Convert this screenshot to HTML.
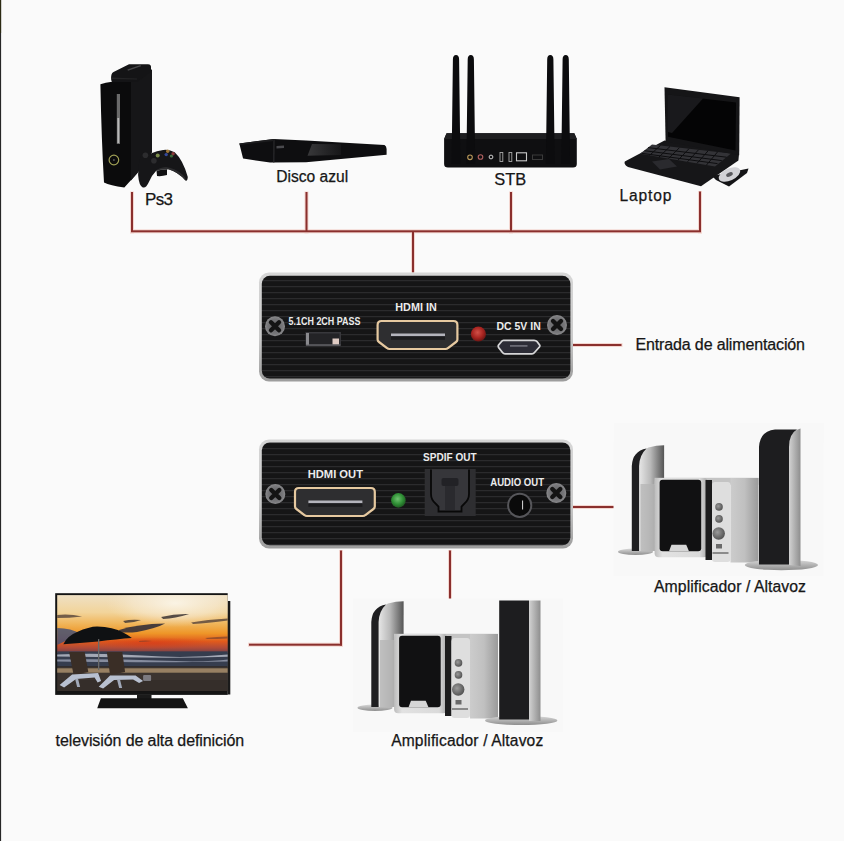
<!DOCTYPE html>
<html><head><meta charset="utf-8">
<style>
html,body{margin:0;padding:0;background:#fafafa;}
body{width:844px;height:841px;overflow:hidden;position:relative;}
svg{position:absolute;left:0;top:0;display:block;}
text{font-family:"Liberation Sans",sans-serif;}
</style></head>
<body>
<svg width="844" height="841" viewBox="0 0 844 841">
<defs>
  <pattern id="brush" x="0" y="0" width="8" height="6" patternUnits="userSpaceOnUse">
    <rect width="8" height="6" fill="#151516"/>
    <rect y="4" width="8" height="1.2" fill="#2b2b2d"/>
  </pattern>
  <linearGradient id="silver" x1="0" y1="0" x2="0" y2="1">
    <stop offset="0" stop-color="#d6d6d6"/>
    <stop offset="0.6" stop-color="#cacaca"/>
    <stop offset="1" stop-color="#9c9c9c"/>
  </linearGradient>
  <radialGradient id="ledR" cx="0.45" cy="0.4" r="0.6">
    <stop offset="0" stop-color="#d05048"/>
    <stop offset="0.6" stop-color="#a82420"/>
    <stop offset="1" stop-color="#6a1614"/>
  </radialGradient>
  <radialGradient id="ledG" cx="0.45" cy="0.4" r="0.6">
    <stop offset="0" stop-color="#70c070"/>
    <stop offset="0.6" stop-color="#2f8f35"/>
    <stop offset="1" stop-color="#1f5a22"/>
  </radialGradient>
  <radialGradient id="screw" cx="0.5" cy="0.5" r="0.5">
    <stop offset="0" stop-color="#5e5e60"/>
    <stop offset="0.75" stop-color="#77777a"/>
    <stop offset="1" stop-color="#8a8a8c"/>
  </radialGradient>
  <linearGradient id="sky" x1="0" y1="0" x2="0" y2="1">
    <stop offset="0" stop-color="#efe0c4"/>
    <stop offset="0.3" stop-color="#f2d49a"/>
    <stop offset="0.5" stop-color="#f0b458"/>
    <stop offset="0.66" stop-color="#ee9628"/>
    <stop offset="0.8" stop-color="#e05a1c"/>
    <stop offset="0.91" stop-color="#b04a38"/>
    <stop offset="1" stop-color="#704048"/>
  </linearGradient>
  <radialGradient id="glow" cx="0.5" cy="0.5" r="0.5">
    <stop offset="0" stop-color="#fbf6ea" stop-opacity="0.9"/>
    <stop offset="0.6" stop-color="#f8eedc" stop-opacity="0.5"/>
    <stop offset="1" stop-color="#f6e6c8" stop-opacity="0"/>
  </radialGradient>
  <radialGradient id="redglow" cx="0.5" cy="0.5" r="0.5">
    <stop offset="0" stop-color="#d83a18" stop-opacity="0.7"/>
    <stop offset="1" stop-color="#d83a18" stop-opacity="0"/>
  </radialGradient>
  <linearGradient id="bdGloss" x1="0" y1="0" x2="1" y2="0">
    <stop offset="0" stop-color="#38383a"/>
    <stop offset="1" stop-color="#161618"/>
  </linearGradient>
  <linearGradient id="satSil" x1="0" y1="0" x2="1" y2="0">
    <stop offset="0" stop-color="#e6e6e6"/>
    <stop offset="0.45" stop-color="#bababa"/>
    <stop offset="1" stop-color="#555555"/>
  </linearGradient>
  <linearGradient id="towSil" x1="0" y1="0" x2="1" y2="0">
    <stop offset="0" stop-color="#d2d2d2"/>
    <stop offset="1" stop-color="#8e8e8e"/>
  </linearGradient>
  <linearGradient id="subFr" x1="0" y1="0" x2="1" y2="0">
    <stop offset="0" stop-color="#bcbcbc"/>
    <stop offset="0.15" stop-color="#e2e2e2"/>
    <stop offset="0.85" stop-color="#dadada"/>
    <stop offset="1" stop-color="#a8a8a8"/>
  </linearGradient>
  <linearGradient id="subSide" x1="0" y1="0" x2="1" y2="0">
    <stop offset="0" stop-color="#cccccc"/>
    <stop offset="0.5" stop-color="#c0c0c0"/>
    <stop offset="1" stop-color="#9a9a9a"/>
  </linearGradient>
  <radialGradient id="knob" cx="0.4" cy="0.4" r="0.6">
    <stop offset="0" stop-color="#9a9a9a"/>
    <stop offset="1" stop-color="#555"/>
  </radialGradient>
  <linearGradient id="baseG" x1="0" y1="0" x2="0" y2="1">
    <stop offset="0" stop-color="#d8d8d8"/>
    <stop offset="1" stop-color="#8e8e8e"/>
  </linearGradient>

  
</defs>

<!-- left edge -->
<rect x="0" y="0" width="1.1" height="841" fill="#262626"/>
<rect x="0" y="0" width="1.1" height="33" fill="#2c2a12"/>

<!-- ===== red lines ===== -->
<g fill="#f3d6d0">
  <rect x="130" y="191.5" width="4" height="42"/>
  <rect x="304.5" y="191.5" width="4" height="42"/>
  <rect x="509" y="191.5" width="4" height="42"/>
  <rect x="698" y="191" width="4" height="42.5"/>
  <rect x="130" y="229.3" width="572" height="4"/>
  <rect x="411" y="230" width="4" height="42.5"/>
  <rect x="573" y="343" width="49.5" height="4"/>
  <rect x="573" y="505" width="44" height="4"/>
  <rect x="339" y="550" width="4" height="96.5"/>
  <rect x="248" y="642.7" width="95" height="4"/>
  <rect x="448" y="550" width="4" height="74"/>
</g>
<g fill="#8a2f2d">
  <rect x="131" y="192" width="2" height="40"/>
  <rect x="305.5" y="192" width="2" height="40"/>
  <rect x="510" y="192" width="2" height="40"/>
  <rect x="699" y="191.5" width="2" height="40.5"/>
  <rect x="131" y="230.3" width="570" height="2"/>
  <rect x="412" y="231" width="2" height="41.5"/>
  <rect x="573" y="344" width="48.5" height="2"/>
  <rect x="573" y="506" width="43" height="2"/>
  <rect x="340" y="550.5" width="2" height="95"/>
  <rect x="249" y="643.7" width="93" height="2"/>
  <rect x="449" y="550.5" width="2" height="73"/>
</g>

<!-- ===== texts ===== -->
<g fill="#161616" stroke="#161616" stroke-width="0.25">
  <text x="145" y="204.8" font-size="17" textLength="28" lengthAdjust="spacing">Ps3</text>
  <text x="276.3" y="181.9" font-size="15.6" textLength="71.8" lengthAdjust="spacing">Disco azul</text>
  <text x="494.3" y="184.9" font-size="16.4" textLength="32" lengthAdjust="spacing">STB</text>
  <text x="619.5" y="200.5" font-size="15.6" textLength="52" lengthAdjust="spacing">Laptop</text>
  <text x="635.5" y="349.8" font-size="16" textLength="169.5" lengthAdjust="spacing">Entrada de alimentación</text>
  <text x="654" y="592" font-size="15.8" textLength="152" lengthAdjust="spacing">Amplificador / Altavoz</text>
  <text x="391.2" y="746.3" font-size="15.6" textLength="152" lengthAdjust="spacing">Amplificador / Altavoz</text>
  <text x="55.6" y="746.1" font-size="16" textLength="188.5" lengthAdjust="spacing">televisión de alta definición</text>
</g>

<!-- ===== top device (HDMI IN) ===== -->
<g>
  <rect x="259" y="272.5" width="314" height="109" rx="10" fill="url(#silver)"/>
  <rect x="261.8" y="275.8" width="308.6" height="102.8" rx="8" fill="url(#brush)"/>
  <g transform="translate(275,326.3)">
    <circle r="10" fill="url(#screw)"/>
    <path d="M-4,-4 L4,4 M4,-4 L-4,4" stroke="#141414" stroke-width="4.4" stroke-linecap="round"/>
  </g>
  <g transform="translate(557,325)">
    <circle r="10" fill="url(#screw)"/>
    <path d="M-4,-4 L4,4 M4,-4 L-4,4" stroke="#141414" stroke-width="4.4" stroke-linecap="round"/>
  </g>
  <g fill="#ececec" font-weight="bold">
    <text x="288.6" y="324.8" font-size="10.2" textLength="71.8" lengthAdjust="spacingAndGlyphs">5.1CH 2CH PASS</text>
    <text x="395.3" y="311.4" font-size="11.8" textLength="41.4" lengthAdjust="spacingAndGlyphs">HDMI IN</text>
    <text x="496.5" y="330.4" font-size="11.8" textLength="44.2" lengthAdjust="spacingAndGlyphs">DC 5V IN</text>
  </g>
  <!-- switch -->
  <rect x="305.5" y="332" width="35.5" height="13.5" fill="#38383c"/>
  <rect x="307" y="333.5" width="32.5" height="10.5" fill="#232326"/>
  <rect x="306" y="333" width="3" height="12" fill="#8a8a8e"/>
  <rect x="332.5" y="338.5" width="6.5" height="6" fill="#e0ccc4"/>
  <rect x="306" y="344.5" width="34.5" height="1.2" fill="#6a6a6e"/>
  <!-- HDMI IN port -->
  <path d="M381.5,321 Q377.6,321 377.6,325 L377.6,339.5 Q377.6,341 379,342 L387,348 Q388,349 389.5,349 L445.5,349 Q447,349 448,348 L456,342 Q457.4,341 457.4,339.5 L457.4,325 Q457.4,321 453.5,321 Z" fill="#2e2e30" stroke="#e6c9a0" stroke-width="2.2"/>
  <rect x="391" y="333.5" width="54" height="2.8" fill="#b4b4bc"/>
  <rect x="391" y="336.3" width="54" height="3.5" fill="#1c1c1e"/>
  <!-- red LED -->
  <circle cx="478.4" cy="334" r="7.6" fill="url(#ledR)"/>
  <!-- micro usb -->
  <path d="M503.5,340.3 L534.1,340.3 Q536,340.3 537,341.5 L539.6,345 Q540.2,346 539.4,347 L534.5,352.5 Q533.5,353.8 532,353.8 L505,353.8 Q503.5,353.8 502.5,352.5 L498.6,347.5 Q497.9,346 498.6,345 L501.5,341.5 Q502.3,340.3 503.5,340.3 Z" fill="#2c2c36" stroke="#d6d6d8" stroke-width="1.8"/>
  <rect x="510" y="345" width="17.5" height="1.8" fill="#6a6a74"/>
</g>

<!-- ===== bottom device (HDMI OUT) ===== -->
<g>
  <rect x="259" y="439.5" width="314" height="109" rx="10" fill="url(#silver)"/>
  <rect x="261.8" y="442.5" width="308.6" height="102.8" rx="8" fill="url(#brush)"/>
  <g transform="translate(275.3,494)">
    <circle r="10" fill="url(#screw)"/>
    <path d="M-4,-4 L4,4 M4,-4 L-4,4" stroke="#141414" stroke-width="4.4" stroke-linecap="round"/>
  </g>
  <g transform="translate(556.3,493)">
    <circle r="10" fill="url(#screw)"/>
    <path d="M-4,-4 L4,4 M4,-4 L-4,4" stroke="#141414" stroke-width="4.4" stroke-linecap="round"/>
  </g>
  <g fill="#ececec" font-weight="bold">
    <text x="307.7" y="477.9" font-size="11.8" textLength="55.3" lengthAdjust="spacingAndGlyphs">HDMI OUT</text>
    <text x="423.1" y="460.6" font-size="11.8" textLength="53.5" lengthAdjust="spacingAndGlyphs">SPDIF OUT</text>
    <text x="490.3" y="485.8" font-size="11.8" textLength="53.7" lengthAdjust="spacingAndGlyphs">AUDIO OUT</text>
  </g>
  <!-- HDMI OUT port -->
  <g transform="translate(-82.6,167)"><path d="M381.5,321 Q377.6,321 377.6,325 L377.6,339.5 Q377.6,341 379,342 L387,348 Q388,349 389.5,349 L445.5,349 Q447,349 448,348 L456,342 Q457.4,341 457.4,339.5 L457.4,325 Q457.4,321 453.5,321 Z" fill="#2e2e30" stroke="#e6c9a0" stroke-width="2.2"/>
  <rect x="391" y="333.5" width="54" height="2.8" fill="#b4b4bc"/>
  <rect x="391" y="336.3" width="54" height="3.5" fill="#1c1c1e"/></g>
  <circle cx="398.4" cy="500.4" r="7.3" fill="url(#ledG)"/>
  <!-- spdif -->
  <rect x="424.7" y="469" width="51" height="47" fill="#2e2e31"/>
  <path d="M431,469.5 L431,494 Q431,500 436,504 L438.5,506.5 L438.5,511.5 L461.5,511.5 L461.5,506.5 L464,504 Q469,500 469,494 L469,469.5" fill="#36363a" stroke="#080808" stroke-width="1.8"/>
  <rect x="441.5" y="478" width="17" height="8" rx="2" fill="#222226"/>
  <rect x="445" y="486" width="10" height="24" fill="#2a2a2e"/>
  <!-- audio jack -->
  <circle cx="519.7" cy="505.3" r="11.6" fill="#0a0a0a" stroke="#56565a" stroke-width="2"/>
  <rect x="522" y="500.5" width="1.1" height="9" fill="#c8c8c8"/>
</g>

<!-- ===== Xbox (Ps3) ===== -->
<g>
  <path d="M100.4,84.2 Q112,80.5 131,81 L152,69.5 L152,152 L137,173.5 L124.3,187.4 Q110,185.5 104,182.5 Q101.5,140 100.4,84.2 Z" fill="#0b0b0c"/>
  <path d="M131,81 L152,69.5 L152,152 L137,173.5 L131,180.5 Z" fill="#161618"/>
  <path d="M111.2,80 Q110.5,73.5 113.5,72 L129,64.2 L148,64.2 Q151.5,64.5 151,68 L151,72 L137,82 L112,82 Z" fill="#141416"/>
  <path d="M127.4,69.5 L140.5,65 L141,66.3 L128,70.8 Z" fill="#48484a"/>
  <path d="M111.5,77.5 L137,78.5 L137,79.5 L112,79 Z" fill="#242426"/>
  <rect x="116.8" y="94" width="3.2" height="50" fill="#6a6a6a"/>
  <rect x="117.4" y="118" width="1.8" height="25" fill="#b8b8b8"/>
  <circle cx="113.9" cy="160" r="4.8" fill="none" stroke="#a0a055" stroke-width="1.2"/>
  <circle cx="113.9" cy="160" r="1" fill="#555"/>
  <!-- controller -->
  <path d="M141.6,153.9 Q146,153 150.8,153.5 Q157,150.5 163.1,150 Q168.5,148.8 174.7,152.3 Q183,160 187.8,177 Q187.5,181.5 185.5,180.5 Q178,172 168.5,169.3 Q160,169 156.2,170.8 Q152,175 148.9,182 Q146,188.5 142.8,187.4 Q139,186 138.1,175 Q138.5,160 141.6,153.9 Z" fill="#161618"/>
  <path d="M156,170.5 Q162,168.8 168.5,169.3 Q178,172 185.5,180.5 Q186,178 183,175 Q175,168 166,167 Q159,167.5 156,170.5 Z" fill="#2c2c2e"/>
  <path d="M156.5,170.5 L167,169.3 L167,175 Q162,176.5 157,176 Z" fill="#101012"/>
  <circle cx="167.7" cy="151.2" r="1.7" fill="#a07838"/>
  <circle cx="173.1" cy="153.8" r="1.7" fill="#8a3838"/>
  <circle cx="166.2" cy="154.6" r="1.7" fill="#34489a"/>
  <circle cx="171.4" cy="156" r="1.6" fill="#3a6a3a"/>
  <circle cx="157.7" cy="155.4" r="2" fill="#7a8a4a"/>
  <circle cx="145.4" cy="155.2" r="2.8" fill="#2c2c2e"/>
  <circle cx="153.9" cy="160.8" r="2.8" fill="#2c2c2e"/>
</g>

<!-- ===== Blu-ray ===== -->
<g>
  <path d="M239.3,143.4 L273.9,139 L306,140.6 L384.5,145.1 Q386.5,146 386.6,149 L386.6,154.7 L306,162.2 L270.1,162.6 L243.1,158.6 Z" fill="#0e0e10"/>
  <path d="M312,144 L341,144.3 L341,155 L307.5,155.7 Z" fill="url(#bdGloss)"/>
  <path d="M273.4,139.2 L274.6,139.2 L274.4,162.4 L273.2,162.4 Z" fill="#2a2a2c"/>
  <path d="M239.3,143.4 L273.9,139 L274,141 L240,145 Z" fill="#1c1c1e"/>
  <path d="M276.5,146 L284,145.5 L284,148 L276.5,148.5 Z" fill="#4a4a4e"/>
</g>

<!-- ===== STB router ===== -->
<g>
  <path d="M446.6,133.3 L574.3,133.3 L576.8,139.1 L576.8,164 Q576.8,167.5 573,167.5 L448,167.5 Q444.1,167.5 444.1,164 L444.1,139.1 Z" fill="#0f0f11"/>
  <path d="M446.6,133.3 L574.3,133.3 L576.8,139.1 L444.1,139.1 Z" fill="#1e1e20"/>
  <g fill="#0c0c0e">
    <path d="M452.9,59.5 Q452.9,55 456.0,55 Q459.1,55 459.1,59.5 L460.4,164 L451.6,164 Z"/>
    <path d="M467.7,59.5 Q467.7,55 470.8,55 Q473.9,55 473.9,59.5 L475.2,164 L466.4,164 Z"/>
    <path d="M547.2,59.5 Q547.2,55 550.3,55 Q553.4,55 553.4,59.5 L554.7,164 L545.9,164 Z"/>
    <path d="M562.6,59.5 Q562.6,55 565.7,55 Q568.8,55 568.8,59.5 L570.1,164 L561.3,164 Z"/>
  </g>
  <circle cx="470" cy="157.3" r="2.3" fill="none" stroke="#b8985a" stroke-width="1.1"/>
  <circle cx="480.5" cy="157" r="2.3" fill="none" stroke="#b06060" stroke-width="1.1"/>
  <circle cx="491" cy="157" r="1.9" fill="none" stroke="#d0d0d0" stroke-width="1"/>
  <rect x="500" y="152.5" width="2.8" height="9" fill="none" stroke="#a8a8a8" stroke-width="0.9"/>
  <rect x="509" y="152.5" width="2.8" height="9" fill="none" stroke="#a8a8a8" stroke-width="0.9"/>
  <rect x="516.5" y="152.8" width="10" height="8" fill="none" stroke="#c8c8c8" stroke-width="1.1"/>
  <rect x="532.5" y="155" width="10" height="4.5" fill="none" stroke="#3a3a3a" stroke-width="1"/>
</g>

<!-- ===== Laptop ===== -->
<g>
  <path d="M624.8,161.6 L664.5,140.5 L739,154 L738.4,160.5 L701,186.2 L628,167 Q623.5,164.5 624.8,161.6 Z" fill="#161618"/>
  <path d="M652,144.5 L731,153.5 L715,166.5 L640,153.8 Z" fill="#333337"/>
  <g stroke="#0d0d0f" stroke-width="1">
    <path d="M648,147.6 L726.5,157.2 M644.5,150.7 L721.8,160.6 M641.5,153.3 L717.5,163.6"/>
    <path d="M660.5,145.4 L649.5,155.4 M670,146.5 L659,157 M679.5,147.6 L668.5,158.6 M689,148.7 L678,160.2 M698.5,149.8 L687.5,161.8 M708,150.9 L697,163.4 M717.5,152 L706.5,165"/>
  </g>
  <path d="M652,161.5 L669,159 L677,166.5 L660,169.5 Z" fill="#2a2a2e"/>
  <path d="M664.5,87.2 L739.6,97.3 L739.2,155.2 L665.6,141.6 Z" fill="#151517"/>
  <path d="M668,94.4 L736,102.4 L735.5,150.4 L668,136.8 Z" fill="#040405"/>
  <path d="M668,94.4 L703,98.5 L672,133 L668,132 Z" fill="#3a3a3e" opacity="0.4"/>
  <path d="M712,176 L748.5,168.5 L747,173 L729,186.6 L716,180 Z" fill="#141416"/>
  <ellipse cx="729.5" cy="174.5" rx="11.5" ry="6" fill="#d2d2d6" transform="rotate(-24 729.5 174.5)"/>
  <ellipse cx="729.5" cy="174.5" rx="3.5" ry="2" fill="#5a5a5e" transform="rotate(-24 729.5 174.5)"/>
</g>

<!-- ===== TV ===== -->
<g>
  <rect x="55.2" y="593.2" width="172.5" height="101.7" fill="#141414"/>
  <rect x="227.5" y="601" width="2.8" height="93.5" fill="#1a1a1a"/>
  <svg x="57.1" y="595.1" width="170.7" height="96.1" viewBox="0 0 170.7 96.1" preserveAspectRatio="none">
    <rect width="170.7" height="58" fill="url(#sky)"/>
    <ellipse cx="118" cy="8" rx="70" ry="24" fill="url(#glow)"/>
    <ellipse cx="95" cy="48" rx="60" ry="6" fill="url(#redglow)"/>
    <path d="M0,20 Q12,18.5 25,21.5 Q12,23 0,23 Z" fill="#4a3a34" opacity="0.75"/>
    <path d="M0,33 Q14,33 24,39 Q12,44 0,50 Z" fill="#465276" opacity="0.85"/>
    <path d="M62,35 Q80,29 108,28.5 Q100,33 80,37 Q70,38 62,37 Z" fill="#343038" opacity="0.9"/>
    <path d="M66,26 Q74,24 84,25 Q76,28 68,28 Z" fill="#3c3434" opacity="0.8"/>
    <path d="M104,22 Q118,18.5 132,19 Q118,23.5 106,24 Z" fill="#3a3232" opacity="0.85"/>
    <path d="M134,27.5 Q150,24.5 170.7,23.5 L170.7,25.5 Q150,28 136,29 Z" fill="#4a3a36" opacity="0.75"/>
    <path d="M148,43 Q160,41.5 170.7,41.5 L170.7,43.5 Q160,44 150,44 Z" fill="#6a3a30" opacity="0.6"/>
    <path d="M82,46 Q88,45 95,46 Q88,47 82,47 Z" fill="#6a3a30" opacity="0.5"/>
    <rect y="56.3" width="170.7" height="15" fill="#363d4e"/>
    <path d="M0,59.5 Q40,57.5 85,60.5 T170.7,59.5 L170.7,61.7 Q130,63 85,62.5 T0,61.5 Z" fill="#c8ccd8" opacity="0.75"/>
    <path d="M0,64.5 Q50,63.5 100,65.5 T170.7,64.5 L170.7,66.5 Q120,67.5 60,67 T0,66.5 Z" fill="#a8aec0" opacity="0.7"/>
    <rect y="71.3" width="170.7" height="24.8" fill="#3c3430"/>
    <rect y="73.2" width="170.7" height="4.4" fill="#a88e6c" opacity="0.85"/>
    <rect y="85" width="170.7" height="11" fill="#2e2824" opacity="0.5"/>
    <!-- umbrella -->
    <path d="M6.2,49.2 Q10,41 20,37 Q32,31.5 40,31.5 Q56,32 66,37.5 Q72,40.5 74.8,43 Q60,44 41,46.5 Q22,48 6.2,49.2 Z" fill="#0f1113"/>
    <rect x="40.9" y="44" width="1.3" height="31" fill="#6a6a6a"/>
    <!-- chairs -->
    <path d="M12,57 L27.6,57 L31.2,77 L16.5,80 Z" fill="#3a2e26"/>
    <path d="M2.5,90 L15,79.5 L41,78 L44,86 L40.5,87.5 L37.5,82.5 L19,84 L7,92.5 Z" fill="#b8c0d0"/>
    <path d="M18,84 L20,92 L23,92 L21,84 Z" fill="#a0a8b8"/>
    <path d="M49.7,57 L65.2,57 L68,77 L53,80 Z" fill="#3a2e26"/>
    <path d="M41.6,91.7 L53,80.5 L78.5,80.5 L86,86 L82,88 L76,84.5 L57,85 L46,93.5 Z" fill="#b8c0d0"/>
    <path d="M60,85 L62,93 L65,93 L63,85 Z" fill="#a0a8b8"/>
    <rect x="86" y="80" width="8" height="6" rx="1" fill="#a8acb8" opacity="0.6"/>
  </svg>
  <rect x="137" y="694.5" width="14.5" height="4.5" fill="#1a1a1a"/>
  <path d="M100.9,698.3 L182.8,698.3 L187.9,708.2 L97.2,708.2 Z" fill="#131313"/>
</g>

<!-- ===== speakers bottom ===== -->
<g>
    <rect x="353" y="598.5" width="210" height="133.5" fill="#f8f8f8"/>
    <!-- left satellite -->
    <ellipse cx="375" cy="707.8" rx="17.5" ry="3.2" fill="url(#baseG)"/>
    <path d="M378.6,707 L378.6,615 Q380,606 388,603.5 Q396,601.3 403.6,601.2 L403.6,707 Z" fill="url(#satSil)"/>
    <path d="M380,640 L403.6,640 L403.6,707 L380,707 Z" fill="#b4b4b4" opacity="0.75"/>
    <path d="M371.3,707 L371.3,622 Q372,607 386,604.5 Q379,611 378.6,622 L378.6,707 Z" fill="#1f1f21"/>
    <!-- subwoofer -->
    <rect x="394" y="633.8" width="104" height="7" fill="#c4c4c4"/>
    <rect x="470" y="634" width="28" height="84.5" fill="url(#subSide)"/>
    <rect x="394.1" y="634.1" width="53" height="79.2" rx="4" fill="url(#subFr)"/>
    <rect x="399.1" y="635.8" width="41.6" height="71.5" rx="3" fill="#111112"/>
    <path d="M408.5,707.3 L411,700.7 L425.7,700.7 L428.5,707.3 Z" fill="#d6d6d6"/>
    <rect x="445" y="636" width="6.5" height="80" fill="#1c1c1d"/>
    <rect x="451.5" y="638" width="18.5" height="80" rx="3" fill="#dedede"/>
    <circle cx="458.5" cy="662.9" r="3.8" fill="url(#knob)"/>
    <circle cx="458.5" cy="674.9" r="3.8" fill="url(#knob)"/>
    <circle cx="458.2" cy="689.5" r="6.2" fill="url(#knob)"/>
    <rect x="455.5" y="700" width="6" height="4.5" fill="#6a6a6a"/>
    <rect x="452" y="708" width="16" height="2" fill="#8a8a8a"/>
  </g>
<ellipse cx="521.2" cy="720.5" rx="36.2" ry="4.5" fill="url(#baseG)"/>
<rect x="529" y="600.5" width="11.5" height="120.5" fill="url(#towSil)"/>
<rect x="499.2" y="600.5" width="29.8" height="119" fill="#1d1d1f"/>

<!-- ===== speakers right ===== -->
<rect x="614" y="423" width="210" height="20" fill="#f8f8f8"/>
<g transform="translate(260.5,-156)">
    <rect x="353" y="598.5" width="210" height="133.5" fill="#f8f8f8"/>
    <!-- left satellite -->
    <ellipse cx="375" cy="707.8" rx="17.5" ry="3.2" fill="url(#baseG)"/>
    <path d="M378.6,707 L378.6,615 Q380,606 388,603.5 Q396,601.3 403.6,601.2 L403.6,707 Z" fill="url(#satSil)"/>
    <path d="M380,640 L403.6,640 L403.6,707 L380,707 Z" fill="#b4b4b4" opacity="0.75"/>
    <path d="M371.3,707 L371.3,622 Q372,607 386,604.5 Q379,611 378.6,622 L378.6,707 Z" fill="#1f1f21"/>
    <!-- subwoofer -->
    <rect x="394" y="633.8" width="104" height="7" fill="#c4c4c4"/>
    <rect x="470" y="634" width="28" height="84.5" fill="url(#subSide)"/>
    <rect x="394.1" y="634.1" width="53" height="79.2" rx="4" fill="url(#subFr)"/>
    <rect x="399.1" y="635.8" width="41.6" height="71.5" rx="3" fill="#111112"/>
    <path d="M408.5,707.3 L411,700.7 L425.7,700.7 L428.5,707.3 Z" fill="#d6d6d6"/>
    <rect x="445" y="636" width="6.5" height="80" fill="#1c1c1d"/>
    <rect x="451.5" y="638" width="18.5" height="80" rx="3" fill="#dedede"/>
    <circle cx="458.5" cy="662.9" r="3.8" fill="url(#knob)"/>
    <circle cx="458.5" cy="674.9" r="3.8" fill="url(#knob)"/>
    <circle cx="458.2" cy="689.5" r="6.2" fill="url(#knob)"/>
    <rect x="455.5" y="700" width="6" height="4.5" fill="#6a6a6a"/>
    <rect x="452" y="708" width="16" height="2" fill="#8a8a8a"/>
  </g>
<ellipse cx="781.4" cy="565" rx="36.6" ry="5.2" fill="url(#baseG)"/>
<path d="M789,565 L789,445 Q789,432 800.5,428.6 L800.5,566 Z" fill="url(#towSil)"/>
<path d="M759,564.6 L759,447 Q760,431 775,429.5 L797,429.5 Q789,434 789,447 L789,564.6 Z" fill="#1d1d1f"/>
</svg>
</body></html>
